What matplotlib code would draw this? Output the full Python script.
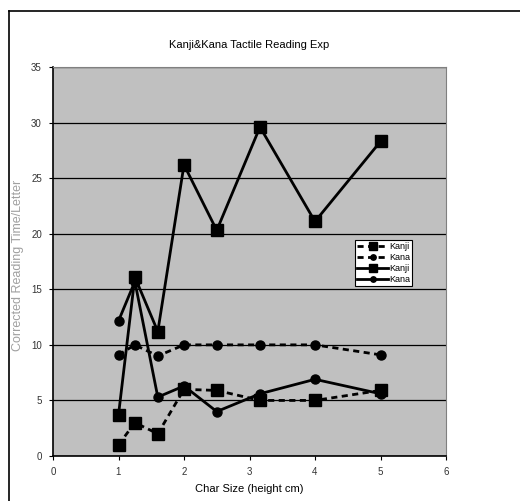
import matplotlib
matplotlib.use("Agg")
import matplotlib.pyplot as plt
from matplotlib.lines import Line2D

plt.rcParams["font.family"] = ["Liberation Sans", "DejaVu Sans"]

# character heights (cm)
char_size = [1, 1.25, 1.6, 2, 2.5, 3.16, 4, 5]

# reading times, dashed series
kanji_dash = [1.0, 3.0, 2.0, 6.0, 5.9, 5.0, 5.0, 5.9]
kana_dash = [9.1, 10.0, 9.0, 10.0, 10.0, 10.0, 10.0, 9.1]

# reading times, solid series
kanji_solid = [3.7, 16.1, 11.2, 26.2, 20.3, 29.6, 21.1, 28.3]
kana_solid = [12.15, 15.7, 5.3, 6.3, 4.0, 5.6, 6.9, 5.6]

x_ticks = [0, 1, 2, 3, 4, 5, 6]
y_ticks = [0, 5, 10, 15, 20, 25, 30, 35]

fig = plt.figure(figsize=(5.20, 5.01), dpi=100)
ax = fig.add_axes([53 / 520, 1 - 456 / 501, (446 - 53) / 520, (456 - 67) / 501])
ax.set_facecolor("#c0c0c0")

dash = (0, (2.2, 1.6))
ax.plot(char_size, kanji_dash, color="black", lw=2, ls=dash,
        marker="s", ms=9, label="Kanji")
ax.plot(char_size, kana_dash, color="black", lw=2, ls=dash,
        marker="o", ms=6.5, label="Kana")
ax.plot(char_size, kanji_solid, color="black", lw=2, ls="-",
        marker="s", ms=9, label="Kanji")
ax.plot(char_size, kana_solid, color="black", lw=2, ls="-",
        marker="o", ms=6.5, label="Kana")

ax.set_xlim(0, 6)
ax.set_ylim(0, 35)
ax.set_xticks(x_ticks)
ax.set_yticks(y_ticks)
ax.tick_params(labelsize=7, length=3, width=0.8, colors="black")
ax.tick_params(axis="x", pad=5)
ax.tick_params(axis="y", pad=5)
for lab in ax.get_xticklabels() + ax.get_yticklabels():
    lab.set_color("#333333")
ax.yaxis.grid(True, color="black", lw=0.9)
ax.set_axisbelow(True)
for side in ["top", "right"]:
    ax.spines[side].set_color("#808080")
for side in ["left", "bottom"]:
    ax.spines[side].set_color("black")
    ax.spines[side].set_linewidth(1.2)

ax.set_title("Kanji&Kana Tactile Reading Exp", fontsize=8, pad=14)
ax.set_xlabel("Char Size (height cm)", fontsize=8, labelpad=5)
ax.set_ylabel("Corrected Reading Time/Letter", fontsize=9, color="#a0a0a0")
ax.yaxis.set_label_coords(-(53 - 24) / 393, 0.49)

leg = ax.legend(loc="upper left", bbox_to_anchor=((355 - 53) / 393, 1 - (240 - 67) / 389),
                fontsize=6.5, frameon=True, fancybox=False, handlelength=3.4,
                handletextpad=0.1, borderpad=0.25, labelspacing=0.2,
                borderaxespad=0, markerscale=0.6)
leg.get_frame().set_edgecolor("black")
leg.get_frame().set_linewidth(0.8)
leg.get_frame().set_facecolor("white")
leg.get_frame().set_alpha(1)

# outer chart border (only top and left visible in the crop)
fig.add_artist(Line2D([9 / 520, 1], [1 - 11 / 501, 1 - 11 / 501],
                      transform=fig.transFigure, color="black", lw=1.2))
fig.add_artist(Line2D([9 / 520, 9 / 520], [0, 1 - 11 / 501],
                      transform=fig.transFigure, color="black", lw=1.2))

fig.savefig("out.png", dpi=100)
